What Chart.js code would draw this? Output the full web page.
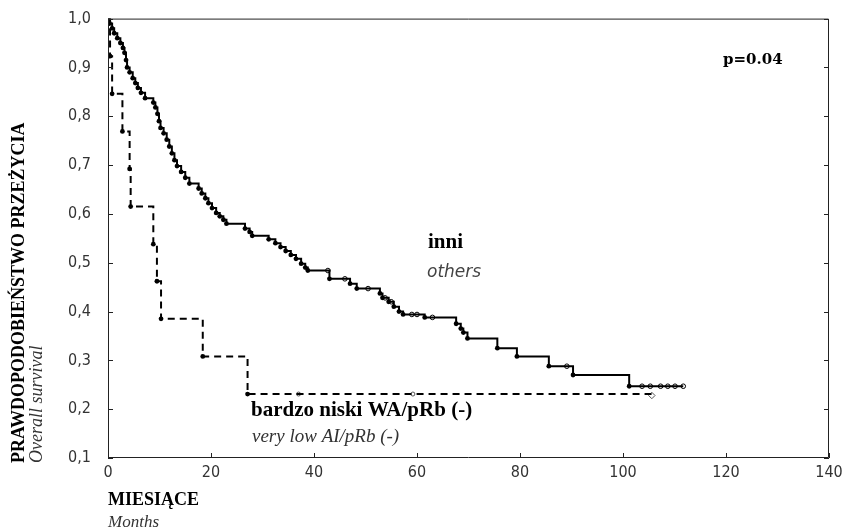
<!DOCTYPE html>
<html lang="pl">
<head>
<meta charset="UTF-8">
<title>Overall survival</title>
<script src="https://cdn.jsdelivr.net/npm/chart.js"></script>
<style>
  body { margin: 0; background: #fff; }
  #wrap { width: 846px; height: 532px; }
</style>
</head>
<body>
<div id="wrap"><canvas id="km" width="846" height="532"></canvas></div>
<script>
// tick values
const xTicks = [0, 20, 40, 60, 80, 100, 120, 140];
const yTicks = [0.1, 0.2, 0.3, 0.4, 0.5, 0.6, 0.7, 0.8, 0.9, 1.0];

// "inni / others" - step points (month, survival after the event)
const othersMonths = [0, 0.3, 0.8, 1.2, 1.8, 2.4, 2.9, 3.2, 3.5, 3.7, 4.2, 4.8, 5.3, 5.8, 6.4, 7.2,
  8.8, 9.2, 9.6, 9.9, 10.2, 10.8, 11.4, 11.9, 12.4, 12.9, 13.4, 14.2, 15.0, 15.8, 17.6, 18.2,
  18.9, 19.5, 20.2, 21.0, 21.7, 22.4, 23.0, 26.6, 27.5, 28.0, 31.2, 32.5, 33.5, 34.5, 35.5,
  36.5, 37.5, 38.3, 38.8, 43.0, 47.0, 48.3, 52.8, 53.3, 54.5, 55.5, 56.5, 57.3, 61.5, 67.6,
  68.5, 69.0, 69.8, 75.6, 79.4, 85.6, 90.3, 101.2, 111.7];
const othersSurv = [1.0, 0.99, 0.98, 0.97, 0.96, 0.95, 0.94, 0.93, 0.915, 0.90, 0.89, 0.878, 0.868, 0.858, 0.848, 0.837,
  0.828, 0.818, 0.805, 0.79, 0.776, 0.765, 0.752, 0.738, 0.724, 0.71, 0.698, 0.686, 0.674, 0.662, 0.652, 0.642,
  0.632, 0.622, 0.612, 0.602, 0.595, 0.588, 0.58, 0.57, 0.563, 0.555, 0.548, 0.54, 0.532, 0.524, 0.516,
  0.508, 0.498, 0.49, 0.484, 0.467, 0.457, 0.447, 0.437, 0.428, 0.42, 0.41, 0.40, 0.394, 0.388, 0.375,
  0.365, 0.357, 0.345, 0.325, 0.308, 0.288, 0.27, 0.247, 0.247];
// censored cases
const othersCensMonths = [42.7, 46.0, 50.5, 53.8, 55.0, 59.0, 60.0, 63.0, 89.1, 103.7, 105.3, 107.3, 108.7, 110.1, 111.7];
const othersCensSurv = [0.484, 0.467, 0.447, 0.428, 0.42, 0.394, 0.394, 0.388, 0.288, 0.247, 0.247, 0.247, 0.247, 0.247, 0.247];

// "bardzo niski WA/pRb (-)" group
const lowMonths = [0, 0.4, 0.8, 2.8, 4.2, 4.4, 8.8, 9.5, 10.3, 18.4, 27.1, 105.6];
const lowSurv = [1.0, 0.923, 0.846, 0.769, 0.692, 0.615, 0.538, 0.462, 0.385, 0.308, 0.231, 0.231];
const lowCensMonths = [37.0, 59.2, 105.6];
const lowCensSurv = [0.231, 0.231, 0.228];

const pts = (xs, ys) => xs.map((x, i) => ({ x: x, y: ys[i] }));

const serif = "'Liberation Serif', 'DejaVu Serif', serif";
const tickFont = { family: "'Liberation Sans Narrow', 'DejaVu Sans Condensed', sans-serif", size: 16 };

// frame, inner ticks and all the annotation texts
const decor = {
  id: 'decor',
  afterDraw(chart) {
    const { ctx, chartArea: a, scales } = chart;
    ctx.save();
    ctx.strokeStyle = '#222';
    ctx.lineWidth = 1;
    ctx.beginPath();
    ctx.moveTo(a.left + 0.5, a.top + 0.5);
    ctx.lineTo(a.right - 0.5, a.top + 0.5);
    ctx.lineTo(a.right - 0.5, a.bottom - 0.5);
    ctx.lineTo(a.left + 0.5, a.bottom - 0.5);
    ctx.closePath();
    ctx.stroke();
    // ticks pointing inwards
    ctx.beginPath();
    yTicks.forEach(v => {
      const y = Math.round(scales.y.getPixelForValue(v)) + 0.5;
      ctx.moveTo(a.left, y); ctx.lineTo(a.left + 5, y);
      ctx.moveTo(a.right, y); ctx.lineTo(a.right - 5, y);
    });
    xTicks.forEach(v => {
      const x = Math.round(scales.x.getPixelForValue(v)) + 0.5;
      ctx.moveTo(x, a.bottom); ctx.lineTo(x, a.bottom - 5);
    });
    ctx.stroke();

    ctx.fillStyle = '#000';
    ctx.textBaseline = 'alphabetic';
    ctx.textAlign = 'left';
    ctx.font = "bold 15px 'DejaVu Serif', serif";
    ctx.fillText('p=0.04', 723, 64);

    ctx.font = 'bold 21px ' + serif;
    ctx.fillText('inni', 428, 248);
    ctx.fillStyle = '#444';
    ctx.font = "oblique 17px 'DejaVu Sans', sans-serif";
    ctx.fillText('others', 427, 277);

    ctx.fillStyle = '#000';
    ctx.font = 'bold 21px ' + serif;
    ctx.fillText('bardzo niski WA/pRb (-)', 251, 416);
    ctx.fillStyle = '#333';
    ctx.font = 'italic 19px ' + serif;
    ctx.fillText('very low AI/pRb (-)', 252, 442);

    ctx.fillStyle = '#000';
    ctx.font = 'bold 18px ' + serif;
    ctx.fillText('MIESIĄCE', 108, 505);
    ctx.fillStyle = '#333';
    ctx.font = 'italic 17px ' + serif;
    ctx.fillText('Months', 108, 527);

    // rotated y titles
    ctx.fillStyle = '#000';
    ctx.save();
    ctx.translate(24, 463);
    ctx.rotate(-Math.PI / 2);
    ctx.font = 'bold 18px ' + serif;
    ctx.fillText('PRAWDOPODOBIEŃSTWO PRZEŻYCIA', 0, 0);
    ctx.restore();
    ctx.save();
    ctx.translate(42, 463);
    ctx.rotate(-Math.PI / 2);
    ctx.fillStyle = '#333';
    ctx.font = 'italic 18px ' + serif;
    ctx.fillText('Overall survival', 0, 0);
    ctx.restore();

    ctx.restore();
  }
};

new Chart(document.getElementById('km'), {
  type: 'line',
  data: {
    datasets: [
      {
        label: 'inni',
        data: pts(othersMonths, othersSurv),
        stepped: 'before',
        borderColor: '#000',
        borderWidth: 2,
        backgroundColor: '#000',
        pointBackgroundColor: '#000',
        pointBorderWidth: 0,
        pointRadius: c => (c.dataIndex === 0 || c.dataIndex === othersMonths.length - 1) ? 0 : 2.4
      },
      {
        label: 'inni censored',
        data: pts(othersCensMonths, othersCensSurv),
        showLine: false,
        pointRadius: 2.3,
        pointBorderWidth: 1,
        pointBorderColor: '#000',
        pointBackgroundColor: '#fff'
      },
      {
        label: 'bardzo niski',
        data: pts(lowMonths, lowSurv),
        stepped: 'before',
        borderColor: '#000',
        borderWidth: 2,
        borderDash: [7, 5],
        pointBackgroundColor: '#000',
        pointBorderWidth: 0,
        pointRadius: c => (c.dataIndex === 0 || c.dataIndex === lowMonths.length - 1) ? 0 : 2.4
      },
      {
        label: 'bardzo niski censored',
        data: pts(lowCensMonths, lowCensSurv),
        showLine: false,
        pointStyle: c => c.dataIndex === lowCensMonths.length - 1 ? 'rectRot' : 'circle',
        pointRadius: c => c.dataIndex === lowCensMonths.length - 1 ? 3.2 : 2,
        pointBorderWidth: 1,
        pointBorderColor: '#555',
        pointBackgroundColor: '#fff'
      }
    ]
  },
  options: {
    responsive: false,
    animation: false,
    events: [],
    layout: { padding: { left: 0, right: 17, top: 17, bottom: 0 } },
    plugins: { legend: { display: false }, tooltip: { enabled: false } },
    scales: {
      x: {
        type: 'linear',
        min: 0, max: 140,
        afterFit: s => { s.height = 74; },
        afterBuildTicks: s => { s.ticks = xTicks.map(v => ({ value: v })); },
        grid: { display: false },
        border: { display: false },
        ticks: { color: '#333', font: tickFont, padding: -3, maxRotation: 0 }
      },
      y: {
        type: 'linear',
        min: 0.1, max: 1.0,
        afterFit: s => { s.width = 108; },
        afterBuildTicks: s => { s.ticks = yTicks.map(v => ({ value: v })); },
        grid: { display: false },
        border: { display: false },
        ticks: {
          color: '#333', font: tickFont, padding: 9,
          callback: v => v.toFixed(1).replace('.', ',')
        }
      }
    }
  },
  plugins: [decor]
});
</script>
</body>
</html>
